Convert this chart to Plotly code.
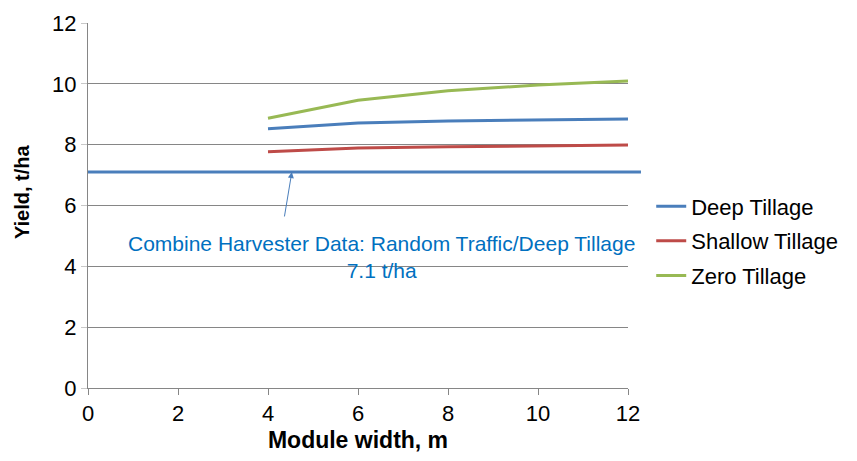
import plotly.graph_objects as go

module_width = [4, 6, 8, 10, 12]
deep_tillage = [8.52, 8.71, 8.78, 8.81, 8.84]
shallow_tillage = [7.77, 7.89, 7.93, 7.96, 7.99]
zero_tillage = [8.87, 9.46, 9.77, 9.96, 10.09]
baseline_yield = 7.1
x_ticks = [0, 2, 4, 6, 8, 10, 12]
y_ticks = [0, 2, 4, 6, 8, 10, 12]

BLUE = "#4A7EBB"
RED = "#BE4B48"
GREEN = "#98B954"
FONT = "Liberation Sans, Arial, sans-serif"

fig = go.Figure()
fig.add_trace(go.Scatter(x=module_width, y=deep_tillage, mode="lines", name="Deep Tillage",
                         legendgroup="a", line=dict(color=BLUE, width=3)))
fig.add_trace(go.Scatter(x=module_width, y=shallow_tillage, mode="lines", name="Shallow Tillage",
                         legendgroup="b", line=dict(color=RED, width=3)))
fig.add_trace(go.Scatter(x=module_width, y=zero_tillage, mode="lines", name="Zero Tillage",
                         legendgroup="c", line=dict(color=GREEN, width=3)))

# baseline combine harvester line
fig.add_shape(type="line", xref="paper", yref="y", x0=0, x1=1.024,
              y0=baseline_yield, y1=baseline_yield,
              line=dict(color=BLUE, width=3), layer="above")

fig.add_annotation(
    x=4.53, y=baseline_yield, xref="x", yref="y",
    ax=4.36, ay=5.59, axref="x", ayref="y",
    showarrow=True, arrowhead=2, arrowsize=1.2, arrowwidth=1, arrowcolor=BLUE,
    text="", standoff=0,
)
fig.add_annotation(
    x=6.53, y=4.32, xref="x", yref="y", showarrow=False,
    text="Combine Harvester Data: Random Traffic/Deep Tillage<br>7.1 t/ha",
    font=dict(family=FONT, size=21, color="#0070C0"), align="center",
)
# y-axis title
fig.add_annotation(
    x=-0.122, y=0.537, xref="paper", yref="paper", showarrow=False,
    text="<b>Yield, t/ha</b>", textangle=-90,
    font=dict(family=FONT, size=20, color="black"),
    xanchor="center", yanchor="middle",
)

fig.update_layout(
    width=857, height=461,
    margin=dict(l=88, r=229, t=23, b=73),
    plot_bgcolor="white", paper_bgcolor="white",
    font=dict(family=FONT, size=22, color="black"),
    showlegend=True,
    legend=dict(x=1.043, y=0.403, xanchor="left", yanchor="middle",
                font=dict(family=FONT, size=22, color="black"),
                itemwidth=30, tracegroupgap=3, bgcolor="rgba(0,0,0,0)"),
    xaxis=dict(range=[0, 12], tickvals=x_ticks, showgrid=False,
               showline=True, linecolor="#868686", linewidth=1,
               ticks="outside", ticklen=6, tickcolor="#868686",
               tickfont=dict(size=22), zeroline=False,
               title=dict(text="<b>Module width, m</b>", font=dict(size=23), standoff=6)),
    yaxis=dict(range=[0, 12], tickvals=y_ticks, showgrid=True, gridcolor="#868686", gridwidth=1,
               showline=True, linecolor="#868686", linewidth=1,
               ticks="outside", ticklen=6, tickcolor="#C8C8C8",
               tickfont=dict(size=22), zeroline=False),
)

fig.write_html("out.html")
